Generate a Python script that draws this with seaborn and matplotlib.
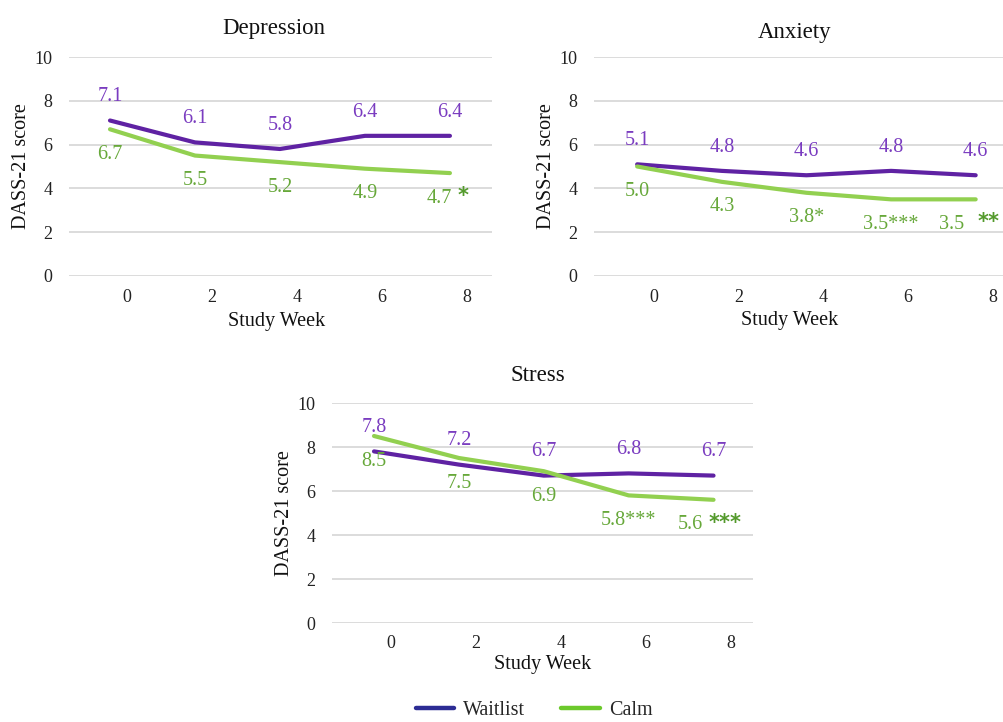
import matplotlib
matplotlib.use("Agg")
import matplotlib.pyplot as plt
from matplotlib.lines import Line2D
import seaborn as sns
import pandas as pd

# ---------------- data ----------------
weeks = [0, 2, 4, 6, 8]
week_labels = ["0", "2", "4", "6", "8"]
groups = ["Waitlist", "Calm"]

dep_waitlist = [7.1, 6.1, 5.8, 6.4, 6.4]
dep_calm = [6.7, 5.5, 5.2, 4.9, 4.7]
dep_calm_sig = ["", "", "", "", "*"]

anx_waitlist = [5.1, 4.8, 4.6, 4.8, 4.6]
anx_calm = [5.0, 4.3, 3.8, 3.5, 3.5]
anx_calm_sig = ["", "", "*", "***", "**"]

str_waitlist = [7.8, 7.2, 6.7, 6.8, 6.7]
str_calm = [8.5, 7.5, 6.9, 5.8, 5.6]
str_calm_sig = ["", "", "", "***", "***"]

titles = ["Depression", "Anxiety", "Stress"]
y_ticks = [0, 2, 4, 6, 8, 10]

# ---------------- style ----------------
sns.set_theme(style="white")
plt.rcParams["font.family"] = ["Liberation Serif", "DejaVu Serif"]

C_WAIT_LINE = "#5f22a3"
C_WAIT_TXT = "#7a3cc0"
C_CALM_LINE = "#92d050"
C_CALM_TXT = "#67a83a"
C_CALM_STAR = "#549a2c"
C_LEG_WAIT = "#2c2c94"
C_LEG_CALM = "#6cc92c"
GRID = "#d9d9d9"

# offsets (points) for "value  stars" labels at the last point: (value right edge, stars left edge)
STAR_OFFSETS = {1: (1.4, 5.8), 2: (-8.6, 1.4), 3: (-7.9, -3.6)}

W, H = 1004, 722
fig = plt.figure(figsize=(W / 100, H / 100), dpi=100)


def px_axes(left, right, top, bottom):
    return fig.add_axes([left / W, 1 - bottom / H, (right - left) / W, (bottom - top) / H])


panels = [
    dict(box=(69, 492, 57, 276), xlim=(-0.965, 8.99), title=(0.485, 1.131),
         xlab=(0.49, -0.21), ylab=(-0.113, 0.5),
         wait=dep_waitlist, calm=dep_calm, sig=dep_calm_sig),
    dict(box=(594, 1018, 57, 276), xlim=(-1.02, 9.0), title=(0.474, 1.114),
         xlab=(0.462, -0.205), ylab=(-0.111, 0.5),
         wait=anx_waitlist, calm=anx_calm, sig=anx_calm_sig),
    dict(box=(332, 753, 403, 623), xlim=(-0.99, 8.93), title=(0.489, 1.127),
         xlab=(0.501, -0.19), ylab=(-0.112, 0.5),
         wait=str_waitlist, calm=str_calm, sig=str_calm_sig),
]

for title, p in zip(titles, panels):
    ax = px_axes(*p["box"])
    df = pd.DataFrame({
        "week": weeks * 2,
        "score": p["wait"] + p["calm"],
        "group": [groups[0]] * len(weeks) + [groups[1]] * len(weeks),
    })
    sns.lineplot(data=df, x="week", y="score", hue="group",
                 palette={"Waitlist": C_WAIT_LINE, "Calm": C_CALM_LINE},
                 linewidth=3.0, legend=False, ax=ax, zorder=3,
                 solid_capstyle="round", solid_joinstyle="round")
    ax.set_xlim(*p["xlim"])
    ax.set_ylim(0, 10)
    ax.set_yticks(y_ticks)
    ax.set_yticklabels([str(t) for t in y_ticks])
    # Excel-style category labels sit slightly right of the points
    ax.set_xticks([w + 0.4 for w in weeks])
    ax.set_xticklabels(week_labels)
    ax.tick_params(axis="both", length=0, labelsize=13, colors="#222222")
    ax.tick_params(axis="y", pad=12)
    ax.tick_params(axis="x", pad=9)
    ax.yaxis.grid(True, color=GRID, linewidth=1.3, zorder=0)
    ax.xaxis.grid(False)
    for s in ax.spines.values():
        s.set_visible(False)
    ax.set_axisbelow(True)

    ax.set_title(title, x=p["title"][0], y=p["title"][1], va="center", pad=0,
                 fontsize=16.5, color="#111111")
    ax.set_xlabel("Study Week", fontsize=14.5, color="#111111")
    ax.set_ylabel("DASS-21 score", fontsize=14.5, color="#111111")
    ax.xaxis.set_label_coords(*p["xlab"])
    ax.xaxis.label.set_va("center")
    ax.yaxis.set_label_coords(*p["ylab"])
    ax.yaxis.label.set_va("center")

    # data labels
    for w, v in zip(weeks, p["wait"]):
        ax.annotate(f"{v:.1f}", (w, v), xytext=(0, 17), textcoords="offset points",
                    ha="center", va="center", fontsize=14.5, color=C_WAIT_TXT, zorder=4)
    last = len(weeks) - 1
    for i, (w, v, s) in enumerate(zip(weeks, p["calm"], p["sig"])):
        if i == last and s:
            r, l = STAR_OFFSETS[len(s)]
            ax.annotate(f"{v:.1f}", (w, v), xytext=(r, -18),
                        textcoords="offset points", ha="right", va="center",
                        fontsize=14.5, color=C_CALM_TXT, zorder=4)
            ax.annotate(s, (w, v), xytext=(l, -16.5),
                        textcoords="offset points", ha="left", va="center",
                        fontsize=15, fontweight="bold", family="DejaVu Sans",
                        color=C_CALM_STAR, zorder=4)
        else:
            ax.annotate(f"{v:.1f}{s}", (w, v), xytext=(0, -18), textcoords="offset points",
                        ha="center", va="center", fontsize=14.5, color=C_CALM_TXT, zorder=4)

handles = [Line2D([], [], color=C_LEG_WAIT, linewidth=3.2),
           Line2D([], [], color=C_LEG_CALM, linewidth=3.2)]
fig.legend(handles, groups, loc="center", bbox_to_anchor=(534 / W, 1 - 710 / H),
           ncol=2, frameon=False, fontsize=14.5, handlelength=1.9, columnspacing=1.8,
           handletextpad=0.45, borderpad=0.1)

fig.savefig("out.png", dpi=100)
